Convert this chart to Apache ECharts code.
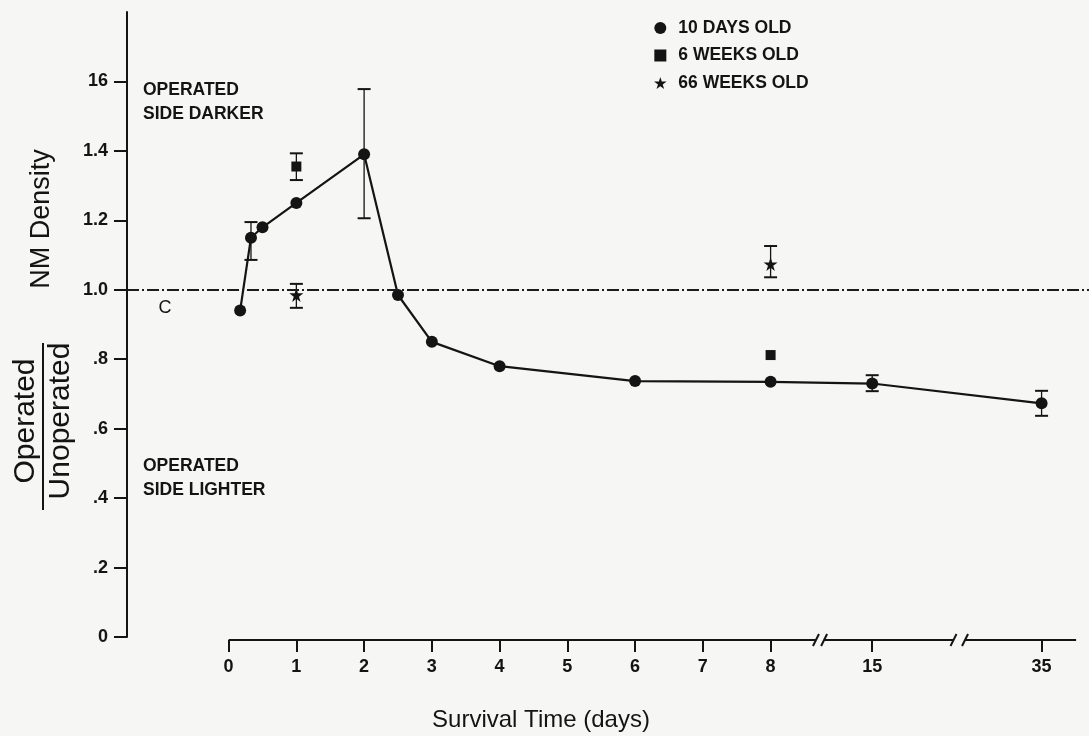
<!DOCTYPE html>
<html>
<head>
<meta charset="utf-8">
<script src="https://cdn.jsdelivr.net/npm/echarts@6/dist/echarts.min.js"></script>
<style>
  html, body { margin: 0; padding: 0; background: #f6f6f4; }
  #chart { width: 1089px; height: 736px; }
</style>
</head>
<body>
<div id="chart"></div>
<script>
// survival time (days) and operated/unoperated NM density
let days10 = [0.17, 0.33, 0.5, 1, 2, 2.5, 3, 4, 6, 8, 15, 35];
let nm10 = [0.94, 1.15, 1.18, 1.25, 1.39, 0.985, 0.85, 0.78, 0.737, 0.735, 0.73, 0.673];
// [day, low, high]
let err10 = [[0.33, 1.086, 1.195], [2, 1.206, 1.578], [15, 0.708, 0.754], [35, 0.637, 0.709]];

let days6w = [1, 8];
let nm6w = [1.355, 0.812];
let err6w = [[1, 1.316, 1.393]];

let days66w = [1, 8];
let nm66w = [0.985, 1.074];
let err66w = [[1, 0.948, 1.017], [8, 1.036, 1.126]];

let controlLevel = 1.0;

let xTickDays = [0, 1, 2, 3, 4, 5, 6, 7, 8, 15, 35];
let xTickLabels = ["0", "1", "2", "3", "4", "5", "6", "7", "8", "15", "35"];
let yTickVals = [0, 0.2, 0.4, 0.6, 0.8, 1.0, 1.2, 1.4, 1.6];
let yTickLabels = ["0", ".2", ".4", ".6", ".8", "1.0", "1.2", "1.4", "16"];

// broken time axis: 0-8 linear, then 15 and 35 squeezed in
let breakDays = [0, 8, 15, 35];
let breakPos = [0, 8, 9.5, 12];
function toPos(d) {
  for (let i = 1; i < breakDays.length; i++) {
    if (d <= breakDays[i]) {
      let t = (d - breakDays[i - 1]) / (breakDays[i] - breakDays[i - 1]);
      return breakPos[i - 1] + t * (breakPos[i] - breakPos[i - 1]);
    }
  }
  return breakPos[breakPos.length - 1];
}
let xTickPos = xTickDays.map(toPos);
// drawn pieces of the x axis line (axis units), gaps hold the // marks
let axisPieces = [[0, 8.67], [8.79, 10.70], [10.87, 12.51]];

let ink = "#141414";
let font = "Liberation Sans, Arial, sans-serif";
let starPath = "path://M50,0 L61,35 L98,35 L68,57 L79,91 L50,70 L21,91 L32,57 L2,35 L39,35 Z";
let squarePath = "path://M0,0 L10,0 L10,10 L0,10 Z";

let errData = [].concat(err10, err6w, err66w).map(e => [toPos(e[0]), e[1], e[2]]);

let chart = echarts.init(document.getElementById("chart"));

chart.setOption({
  backgroundColor: "#f6f6f4",
  animation: false,
  grid: { left: 127, right: 0, top: 12, bottom: 99 },
  xAxis: {
    type: "value",
    min: -1.5,
    max: 12.7,
    offset: 3,
    axisLine: { show: false, onZero: false },
    splitLine: { show: false },
    axisTick: {
      customValues: xTickPos,
      length: 12,
      lineStyle: { color: ink, width: 2 },
    },
    axisLabel: {
      customValues: xTickPos,
      margin: 18,
      color: ink,
      fontSize: 18,
      fontWeight: "bold",
      fontFamily: font,
      formatter: function (v) {
        let i = xTickPos.findIndex(p => Math.abs(p - v) < 1e-6);
        return i >= 0 ? xTickLabels[i] : "";
      },
    },
  },
  yAxis: {
    type: "value",
    min: 0,
    max: 1.8,
    splitLine: { show: false },
    axisLine: { show: true, onZero: false, lineStyle: { color: ink, width: 2 } },
    axisTick: {
      customValues: yTickVals,
      length: 13,
      lineStyle: { color: ink, width: 2 },
    },
    axisLabel: {
      customValues: yTickVals,
      margin: 19,
      color: ink,
      fontSize: 18,
      fontWeight: "bold",
      fontFamily: font,
      formatter: function (v) {
        let i = yTickVals.findIndex(p => Math.abs(p - v) < 1e-6);
        return i >= 0 ? yTickLabels[i] : "";
      },
    },
  },
  legend: {
    orient: "vertical",
    left: 649,
    top: 14,
    itemWidth: 26,
    itemHeight: 12,
    itemGap: 9.5,
    selectedMode: false,
    textStyle: { color: ink, fontSize: 17.5, fontWeight: "bold", fontFamily: font },
    data: [
      { name: "10 DAYS OLD", icon: "circle" },
      { name: "6 WEEKS OLD", icon: squarePath, itemStyle: { color: ink } },
      { name: "66 WEEKS OLD", icon: starPath },
    ],
  },
  series: [
    {
      name: "x axis",
      type: "custom",
      silent: true,
      z: 1,
      clip: false,
      data: [[0, 0]],
      renderItem: function (params, api) {
        let kids = [];
        let y0 = api.coord([0, 0])[1] + 3;
        axisPieces.forEach(function (p, i) {
          let a = api.coord([p[0], 0])[0];
          let b = api.coord([p[1], 0])[0];
          kids.push({ type: "line", shape: { x1: a, y1: y0, x2: b, y2: y0 }, style: { stroke: ink, lineWidth: 2 } });
          if (i > 0) kids.push({ type: "line", shape: { x1: a - 3, y1: y0 + 6, x2: a + 3, y2: y0 - 6 }, style: { stroke: ink, lineWidth: 2 } });
          if (i < axisPieces.length - 1) kids.push({ type: "line", shape: { x1: b - 3, y1: y0 + 6, x2: b + 3, y2: y0 - 6 }, style: { stroke: ink, lineWidth: 2 } });
        });
        return { type: "group", children: kids };
      },
    },
    {
      name: "error",
      type: "custom",
      silent: true,
      z: 2,
      encode: { x: 0, y: [1, 2] },
      data: errData,
      renderItem: function (params, api) {
        let top = api.coord([api.value(0), api.value(2)]);
        let bot = api.coord([api.value(0), api.value(1)]);
        let w = 6.5;
        return {
          type: "group",
          children: [
            { type: "line", shape: { x1: top[0], y1: top[1], x2: bot[0], y2: bot[1] }, style: { stroke: ink, lineWidth: 1.3 } },
            { type: "line", shape: { x1: top[0] - w, y1: top[1], x2: top[0] + w, y2: top[1] }, style: { stroke: ink, lineWidth: 2 } },
            { type: "line", shape: { x1: bot[0] - w, y1: bot[1], x2: bot[0] + w, y2: bot[1] }, style: { stroke: ink, lineWidth: 2 } },
          ],
        };
      },
    },
    {
      name: "10 DAYS OLD",
      type: "line",
      z: 3,
      color: ink,
      symbol: "circle",
      symbolSize: 12,
      itemStyle: { color: ink, opacity: 1 },
      lineStyle: { color: ink, width: 2.2 },
      data: days10.map((d, i) => [toPos(d), nm10[i]]),
      markLine: {
        silent: true,
        symbol: "none",
        label: { show: false },
        lineStyle: { color: "#1c1c1c", width: 2, type: [12, 3, 2, 3] },
        data: [{ yAxis: controlLevel }],
      },
    },
    {
      name: "6 WEEKS OLD",
      type: "scatter",
      z: 4,
      color: ink,
      symbol: squarePath,
      symbolSize: 10,
      itemStyle: { color: ink, opacity: 1 },
      data: days6w.map((d, i) => [toPos(d), nm6w[i]]),
    },
    {
      name: "66 WEEKS OLD",
      type: "scatter",
      z: 4,
      color: ink,
      symbol: starPath,
      symbolSize: 14,
      itemStyle: { color: ink, opacity: 1 },
      data: days66w.map((d, i) => [toPos(d), nm66w[i]]),
    },
  ],
  graphic: [
    { type: "text", x: 42, y: 219, rotation: Math.PI / 2,
      style: { text: "NM Density", font: "27px " + font, fill: ink, textAlign: "center", textVerticalAlign: "middle" } },
    { type: "text", x: 26, y: 421, rotation: Math.PI / 2,
      style: { text: "Operated", font: "30px " + font, fill: ink, textAlign: "center", textVerticalAlign: "middle" } },
    { type: "text", x: 61, y: 421, rotation: Math.PI / 2,
      style: { text: "Unoperated", font: "30px " + font, fill: ink, textAlign: "center", textVerticalAlign: "middle" } },
    { type: "line", shape: { x1: 43, y1: 343, x2: 43, y2: 510 }, style: { stroke: ink, lineWidth: 2 } },
    { type: "text", x: 541, y: 720,
      style: { text: "Survival Time (days)", font: "24px " + font, fill: ink, textAlign: "center", textVerticalAlign: "middle" } },
    { type: "text", x: 143, y: 90,
      style: { text: "OPERATED", font: "bold 17.5px " + font, fill: ink, textVerticalAlign: "middle" } },
    { type: "text", x: 143, y: 114,
      style: { text: "SIDE DARKER", font: "bold 17.5px " + font, fill: ink, textVerticalAlign: "middle" } },
    { type: "text", x: 143, y: 466,
      style: { text: "OPERATED", font: "bold 17.5px " + font, fill: ink, textVerticalAlign: "middle" } },
    { type: "text", x: 143, y: 490,
      style: { text: "SIDE LIGHTER", font: "bold 17.5px " + font, fill: ink, textVerticalAlign: "middle" } },
    { type: "text", x: 165, y: 308,
      style: { text: "C", font: "18px " + font, fill: ink, textAlign: "center", textVerticalAlign: "middle" } },
  ],
});
</script>
</body>
</html>
